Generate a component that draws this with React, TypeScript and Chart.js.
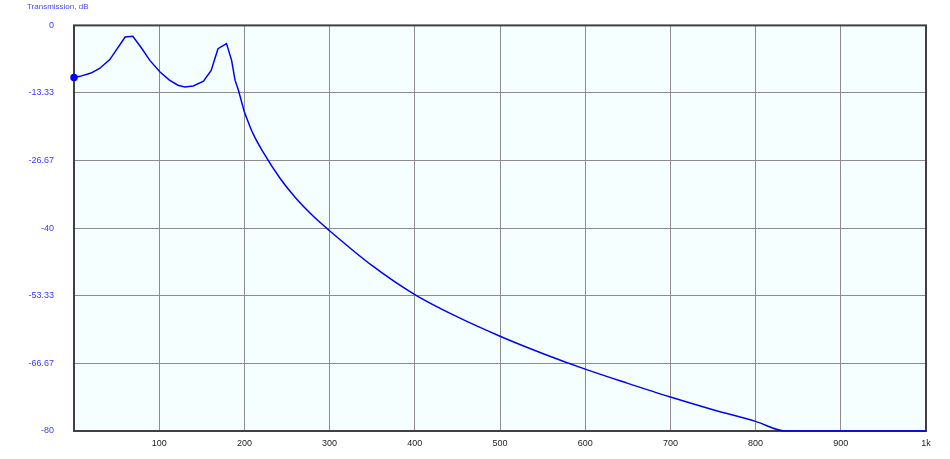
import React, { useEffect, useRef } from "react";
import { Chart, registerables } from "chart.js";

Chart.register(...registerables);

// Resonance region (drawn as straight segments)
const freqLow = [0, 7, 20, 30, 42, 60, 69, 79, 89, 101, 112, 122, 130, 140, 152, 161, 169, 179, 185, 189, 193, 200];
const transLow = [-10.3, -10.05, -9.4, -8.5, -6.75, -2.3, -2.15, -4.4, -6.9, -9.2, -10.8, -11.8, -12.15, -11.95, -11.0, -8.9, -4.6, -3.6, -6.9, -10.8, -12.8, -17.1];
// Roll-off region (smooth)
const freqHigh = [200, 210, 222, 242, 260, 280, 300, 350, 400, 450, 500, 550, 600, 650, 700, 750, 800, 835, 1000];
const transHigh = [-17.1, -21.3, -25.0, -30.2, -34.0, -37.5, -40.5, -47.4, -53.1, -57.5, -61.3, -64.7, -67.8, -70.6, -73.3, -75.8, -78.1, -80, -80];

const xTicks = [100, 200, 300, 400, 500, 600, 700, 800, 900, 1000];
const xTickLabels = ["100", "200", "300", "400", "500", "600", "700", "800", "900", "1k"];
const yTicks = [0, -13.33, -26.67, -40, -53.33, -66.67, -80];
const yTickLabels = ["0", "-13.33", "-26.67", "-40", "-53.33", "-66.67", "-80"];
const yTitle = "Transmission, dB";

export default function App() {
  const ref = useRef<HTMLCanvasElement>(null);
  useEffect(() => {
    document.body.style.margin = "0";
    const canvas = ref.current!;
    const decor = {
      id: "decor",
      beforeDraw(chart: any) {
        const { ctx, chartArea: a } = chart;
        ctx.save();
        ctx.fillStyle = "#F5FFFF";
        ctx.fillRect(a.left, a.top, a.right - a.left, a.bottom - a.top);
        ctx.restore();
      },
      beforeDatasetsDraw(chart: any) {
        const { ctx, chartArea: a } = chart;
        ctx.save();
        ctx.strokeStyle = "#404040";
        ctx.lineWidth = 2;
        ctx.strokeRect(a.left, a.top, a.right - a.left, a.bottom - a.top);
        ctx.restore();
      },
      afterDraw(chart: any) {
        const { ctx } = chart;
        ctx.save();
        ctx.fillStyle = "#4848ff";
        ctx.font = "8px 'Liberation Sans', Arial, sans-serif";
        ctx.textAlign = "left";
        ctx.textBaseline = "middle";
        ctx.fillText(yTitle, 27, 7);
        ctx.restore();
      },
    };
    const common = {
      borderColor: "#0000ff",
      backgroundColor: "#0000ff",
      borderWidth: 1.5,
      pointHoverRadius: 0,
      clip: 4,
    };
    const chart = new Chart(canvas, {
      type: "line",
      data: {
        datasets: [
          {
            ...common,
            data: freqLow.map((f, i) => ({ x: f, y: transLow[i] })),
            pointRadius: (c: any) => (c.dataIndex === 0 ? 3 : 0),
            tension: 0,
          } as any,
          {
            ...common,
            data: freqHigh.map((f, i) => ({ x: f, y: transHigh[i] })),
            pointRadius: 0,
            cubicInterpolationMode: "monotone",
          } as any,
        ],
      },
      options: {
        responsive: false,
        animation: false,
        events: [],
        layout: { padding: { left: 0, right: 24, top: 25, bottom: 0 } },
        plugins: { legend: { display: false }, tooltip: { enabled: false } },
        scales: {
          x: {
            type: "linear",
            min: 0,
            max: 1000,
            afterBuildTicks: (s: any) => {
              s.ticks = xTicks.map((v) => ({ value: v }));
            },
            afterFit: (s: any) => {
              s.height = 28;
            },
            ticks: {
              autoSkip: false,
              maxRotation: 0,
              padding: 7,
              color: "#222222",
              font: { family: "'Liberation Sans', Arial, sans-serif", size: 9 },
              callback: (v: any) => xTickLabels[xTicks.indexOf(v)] ?? "",
            },
            grid: { color: "#8c8c8c", lineWidth: 1, drawTicks: false },
            border: { display: false },
          },
          y: {
            type: "linear",
            min: -80,
            max: 0,
            afterBuildTicks: (s: any) => {
              s.ticks = yTicks.map((v) => ({ value: v }));
            },
            afterFit: (s: any) => {
              s.width = 74;
            },
            ticks: {
              autoSkip: false,
              padding: 20,
              color: "#3a3aff",
              font: { family: "'Liberation Sans', Arial, sans-serif", size: 9 },
              callback: (v: any) => yTickLabels[yTicks.indexOf(v)] ?? "",
            },
            grid: { color: "#8c8c8c", lineWidth: 1, drawTicks: false },
            border: { display: false },
          },
        },
      },
      plugins: [decor],
    } as any);
    return () => chart.destroy();
  }, []);
  return <canvas ref={ref} width={950} height={459} style={{ display: "block" }} />;
}
